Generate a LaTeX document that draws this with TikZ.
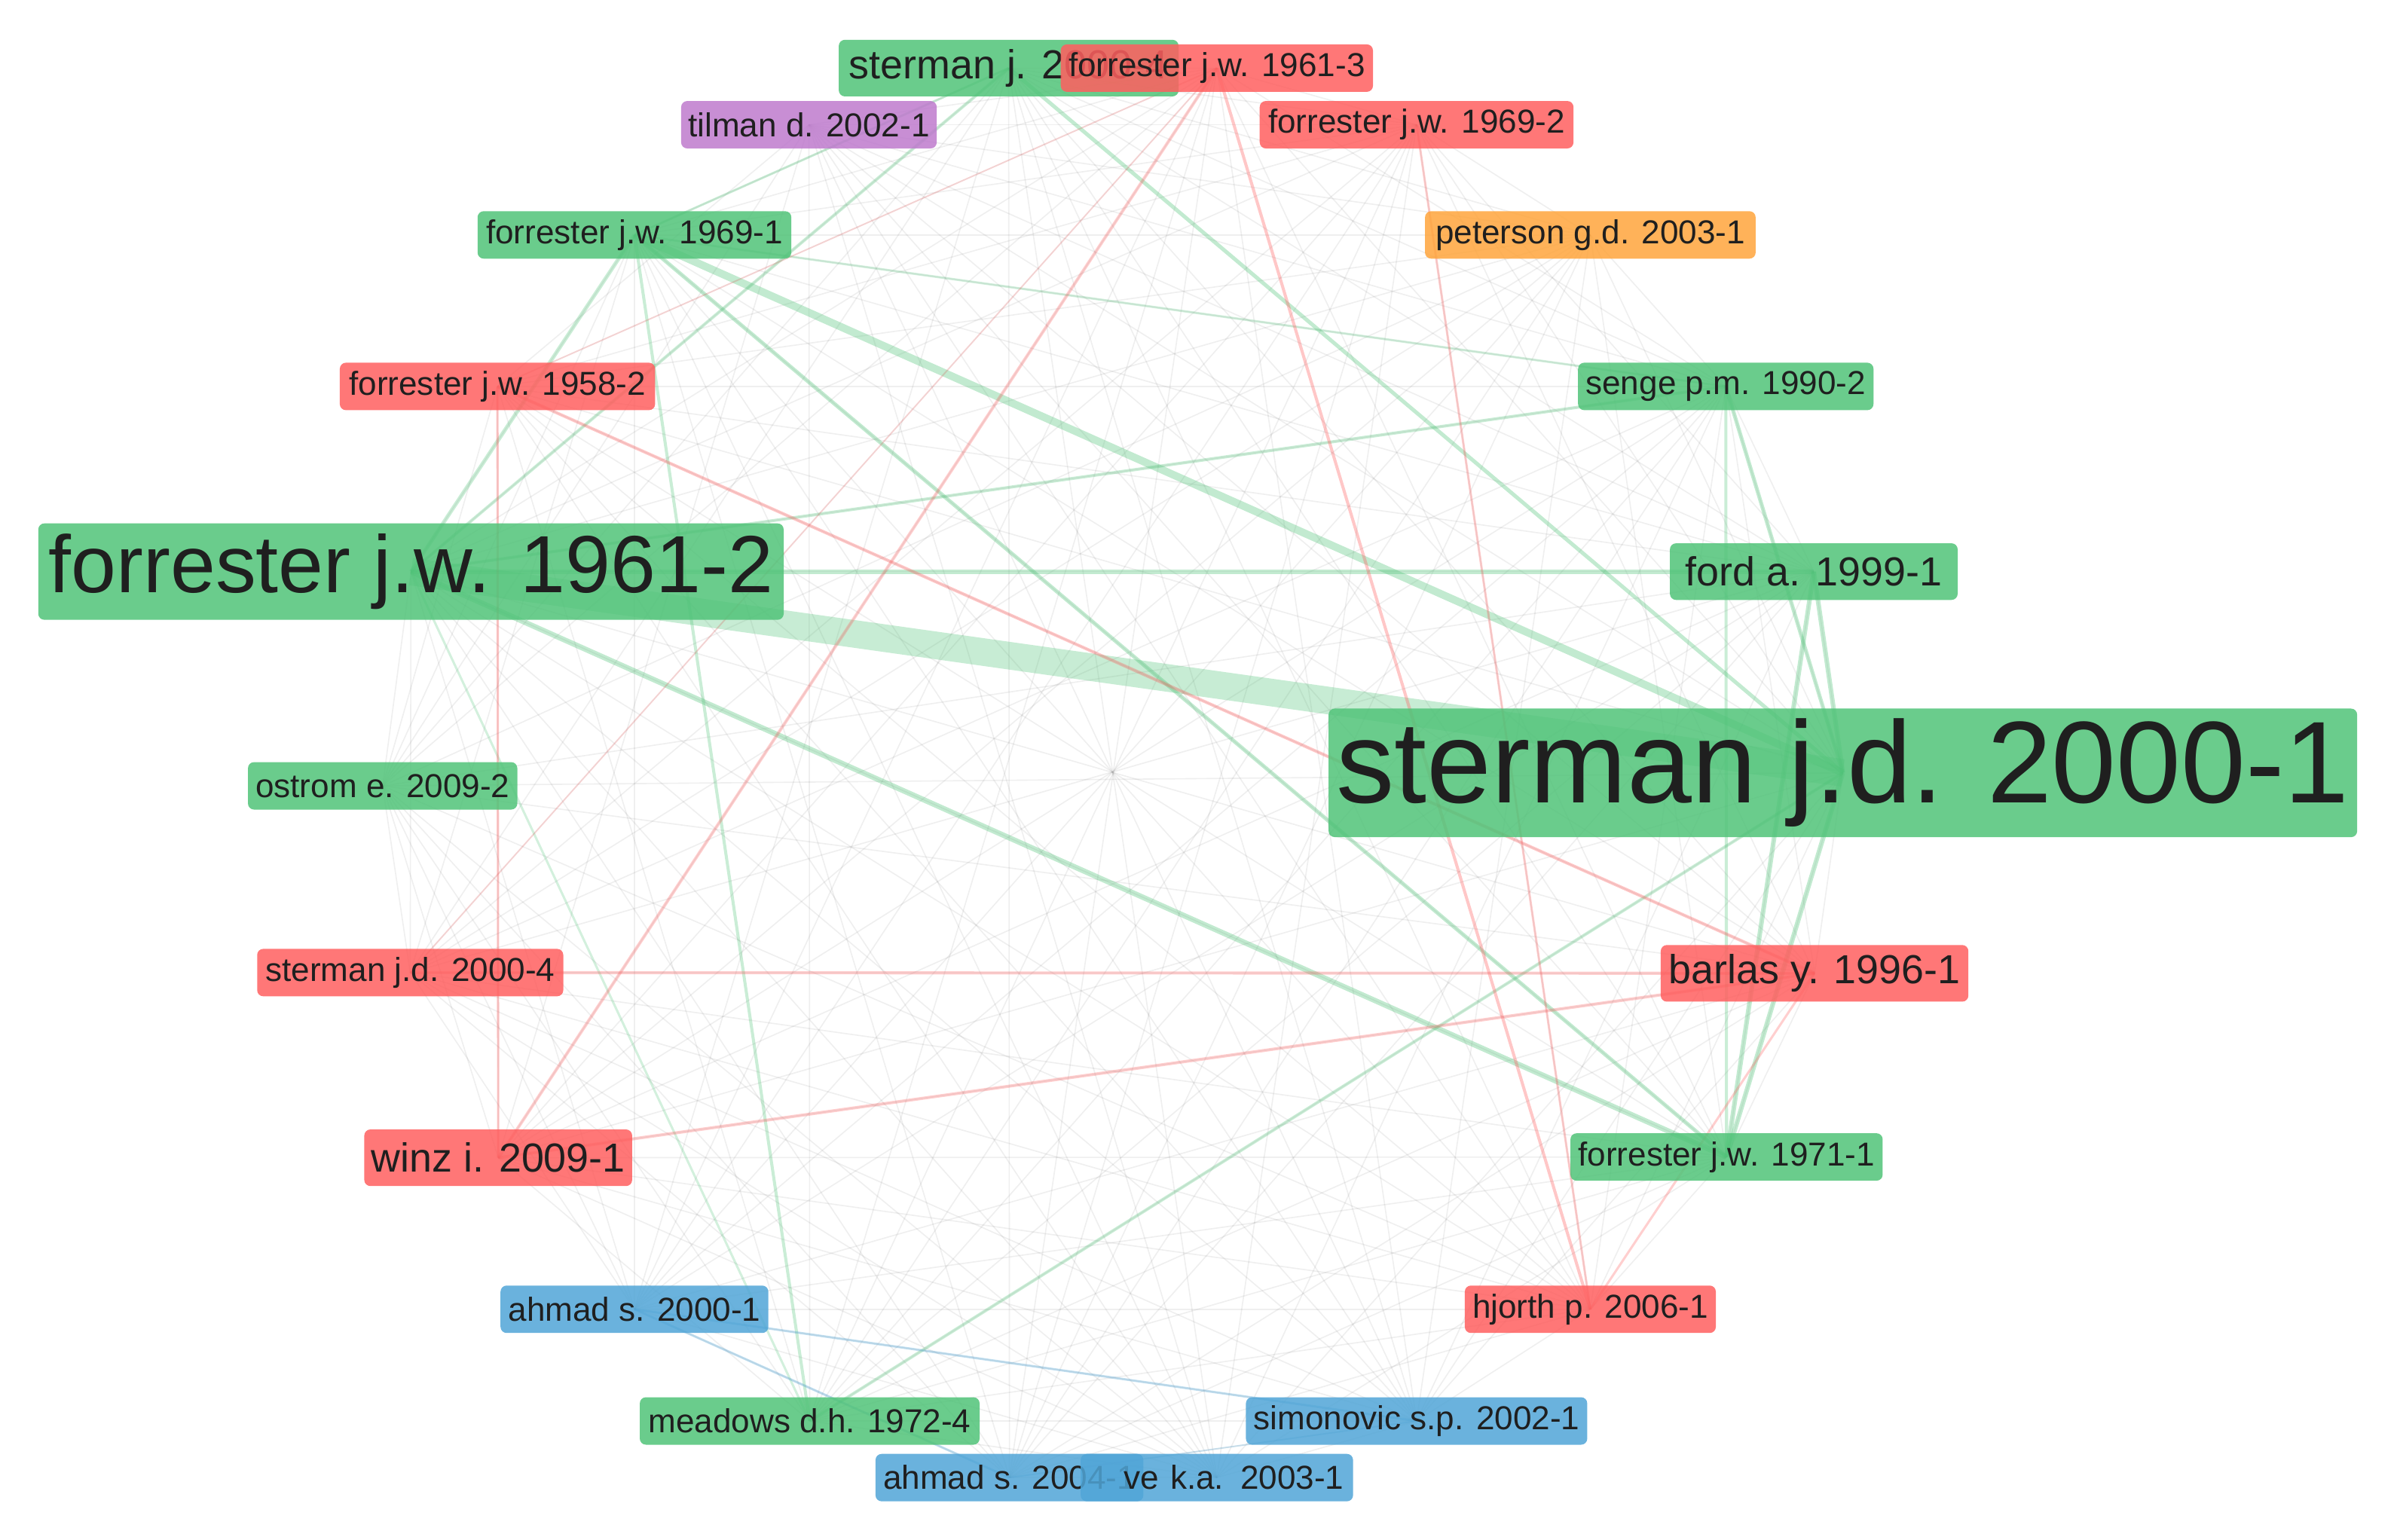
\documentclass[tikz,border=0pt]{standalone}
\usepackage{fontspec}
\setmainfont{Liberation Sans}
\usepackage{xcolor}
\usepackage{tikz}

\pgfdeclarelayer{background}
\pgfsetlayers{background,main}

\definecolor{vgreen}{RGB}{80,195,120}
\definecolor{vred}{RGB}{255,95,95}
\definecolor{vpurple}{RGB}{190,122,205}
\definecolor{vorange}{RGB}{255,165,60}
\definecolor{vblue}{RGB}{80,165,215}

\begin{document}
\begin{tikzpicture}[x=1pt, y=-1pt,
  refbox/.style={rounded corners=4pt, inner sep=0pt, fill opacity=0.85, text opacity=1, text=black!88},
  gbox/.style={refbox, fill=vgreen},
  rbox/.style={refbox, fill=vred},
  pbox/.style={refbox, fill=vpurple},
  obox/.style={refbox, fill=vorange},
  bbox/.style={refbox, fill=vblue},
  smallsz/.style={font=\fontsize{21.7}{24}\selectfont, minimum height=31pt},
  medsz/.style={font=\fontsize{26.5}{30}\selectfont, minimum height=37pt},
  bigsz/.style={font=\fontsize{53}{60}\selectfont, minimum height=63pt},
  hugesz/.style={font=\fontsize{76}{84}\selectfont, minimum height=84pt},
  faint/.style={draw=black!50, line width=0.8pt, opacity=0.13},
  glink/.style={draw=vgreen, opacity=0.35},
  rlink/.style={draw=vred, opacity=0.3},
  blink/.style={draw=vblue, opacity=0.35}]

\useasboundingbox (0,0) rectangle (1568,1006);

% labels on the circle
\node[gbox, medsz, minimum width=222pt] (SteTop) at (659,44.5) {sterman j. 2000-4};
\node[rbox, smallsz, minimum width=204pt] (For1961c) at (795,44.5) {forrester j.w. 1961-3};
\node[pbox, smallsz, minimum width=167pt] (Til2002) at (528.5,81.5) {tilman d. 2002-1};
\node[rbox, smallsz, minimum width=205pt] (For1969b) at (925.5,81.5) {forrester j.w. 1969-2};
\node[gbox, smallsz, minimum width=205pt] (For1969a) at (414.5,153.5) {forrester j.w. 1969-1};
\node[obox, smallsz, minimum width=216pt] (Pet2003) at (1039,153.5) {peterson g.d. 2003-1};
\node[rbox, smallsz, minimum width=206pt] (For1958b) at (325,252.5) {forrester j.w. 1958-2};
\node[gbox, smallsz, minimum width=193pt] (Sen1990b) at (1127.5,252.5) {senge p.m. 1990-2};
\node[gbox, bigsz, minimum width=487pt] (For1961b) at (268.5,373.5) {forrester j.w. 1961-2};
\node[gbox, medsz, minimum width=188pt] (Ford1999) at (1185,373.5) {ford a. 1999-1};
\node[gbox, hugesz, minimum width=672pt] (Ste2000a) at (1204,505) {sterman j.d. 2000-1};
\node[gbox, smallsz, minimum width=176pt] (Ost2009b) at (250,513.5) {ostrom e. 2009-2};
\node[rbox, smallsz, minimum width=200pt] (Ste2000d) at (268,635.5) {sterman j.d. 2000-4};
\node[rbox, medsz, minimum width=201pt] (Bar1996) at (1185.5,636) {barlas y. 1996-1};
\node[rbox, medsz, minimum width=175pt] (Win2009) at (325.5,756.5) {winz i. 2009-1};
\node[gbox, smallsz, minimum width=204pt] (For1971) at (1128,756) {forrester j.w. 1971-1};
\node[bbox, smallsz, minimum width=175pt] (Ahm2000) at (414.5,855.5) {ahmad s. 2000-1};
\node[rbox, smallsz, minimum width=164pt] (Hjo2006) at (1039,855.5) {hjorth p. 2006-1};
\node[gbox, smallsz, minimum width=222pt] (Mea1972) at (529,928.5) {meadows d.h. 1972-4};
\node[bbox, smallsz, minimum width=223pt] (Sim2002) at (925.5,928.5) {simonovic s.p. 2002-1};
\node[bbox, smallsz, minimum width=175pt] (Ahm2004) at (659.5,965.5) {ahmad s. 2004-1};
\node[bbox, smallsz, text width=166pt, align=right, inner xsep=6pt] (Kve2003) at (795,965.5) {ve k.a. 2003-1};

\begin{pgfonlayer}{background}
% weak links, most pairs
\foreach \a [count=\i] in {SteTop,For1961c,Til2002,For1969b,For1969a,Pet2003,For1958b,Sen1990b,For1961b,Ford1999,Ste2000a,Ost2009b,Ste2000d,Bar1996,Win2009,For1971,Ahm2000,Hjo2006,Mea1972,Sim2002,Ahm2004,Kve2003}{
  \foreach \b [count=\j] in {SteTop,For1961c,Til2002,For1969b,For1969a,Pet2003,For1958b,Sen1990b,For1961b,Ford1999,Ste2000a,Ost2009b,Ste2000d,Bar1996,Win2009,For1971,Ahm2000,Hjo2006,Mea1972,Sim2002,Ahm2004,Kve2003}{
    \pgfmathtruncatemacro{\skipit}{mod(\i*7+\j*3,4)}
    \ifnum\j>\i \ifnum\skipit>0 \draw[faint] (\a.center) -- (\b.center); \fi \fi
  }
}

% green cluster
\draw[glink, line width=18pt, opacity=0.32] (For1961b.center) -- (Ste2000a.center);
\draw[glink, line width=5pt] (For1969a.center) -- (Ste2000a.center);
\draw[glink, line width=3pt] (For1961b.center) -- (Ford1999.center);
\draw[glink, line width=3.5pt] (For1961b.center) -- (For1971.center);
\draw[glink, line width=2.5pt] (For1969a.center) -- (For1971.center);
\draw[glink, line width=2.5pt] (SteTop.center) -- (Ste2000a.center);
\draw[glink, line width=2pt, opacity=0.3] (SteTop.center) -- (For1961b.center);
\draw[glink, line width=1.5pt, opacity=0.3] (SteTop.center) -- (For1969a.center);
\draw[glink, line width=2pt, opacity=0.3] (Sen1990b.center) -- (For1961b.center);
\draw[glink, line width=2.5pt] (Sen1990b.center) -- (Ste2000a.center);
\draw[glink, line width=2pt, opacity=0.3] (Sen1990b.center) -- (For1971.center);
\draw[glink, line width=1.5pt, opacity=0.25] (For1969a.center) -- (Sen1990b.center);
\draw[glink, line width=3pt] (Ford1999.center) -- (For1971.center);
\draw[glink, line width=3pt] (Ford1999.center) -- (Ste2000a.center);
\draw[glink, line width=3pt] (Ste2000a.center) -- (For1971.center);
\draw[glink, line width=2pt, opacity=0.3] (Mea1972.center) -- (Ste2000a.center);
\draw[glink, line width=2pt, opacity=0.3] (For1969a.center) -- (Mea1972.center);
\draw[glink, line width=1.5pt, opacity=0.25] (For1961b.center) -- (Mea1972.center);
\draw[glink, line width=2.5pt, opacity=0.3] (For1969a.center) -- (For1961b.center);

% red cluster
\draw[rlink, line width=2pt, opacity=0.35] (For1958b.center) -- (Bar1996.center);
\draw[rlink, line width=2pt] (Ste2000d.center) -- (Bar1996.center);
\draw[rlink, line width=2pt] (Win2009.center) -- (Bar1996.center);
\draw[rlink, line width=2pt] (For1961c.center) -- (Win2009.center);
\draw[rlink, line width=2pt, opacity=0.35] (For1961c.center) -- (Hjo2006.center);
\draw[rlink, line width=1.5pt] (For1969b.center) -- (Hjo2006.center);
\draw[rlink, line width=1.5pt, opacity=0.35] (For1958b.center) -- (Win2009.center);
\draw[rlink, line width=1.5pt] (Bar1996.center) -- (Hjo2006.center);
\draw[rlink, line width=1pt, opacity=0.2] (For1961c.center) -- (For1958b.center);
\draw[rlink, line width=1pt, opacity=0.2] (For1961c.center) -- (Ste2000d.center);

% blue cluster
\draw[blink, line width=1.5pt] (Ahm2000.center) -- (Ahm2004.center);
\draw[blink, line width=1.5pt] (Ahm2000.center) -- (Sim2002.center);
\draw[blink, line width=1pt, opacity=0.25] (Ahm2004.center) -- (Sim2002.center);
\end{pgfonlayer}
\end{tikzpicture}
\end{document}
